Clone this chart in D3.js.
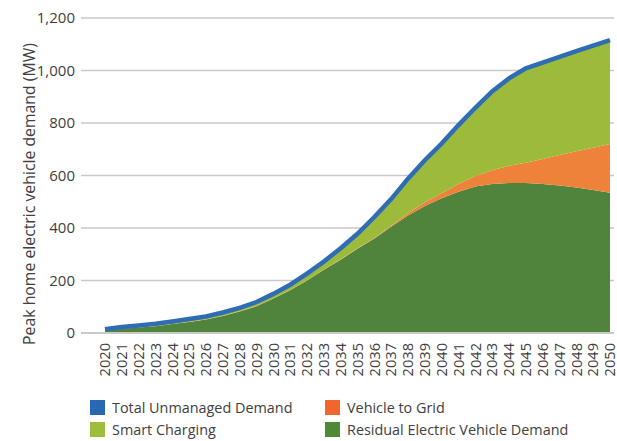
<!DOCTYPE html>
<html>
<head>
<meta charset="utf-8">
<script src="https://cdn.jsdelivr.net/npm/d3@7"></script>
<style>
  body { margin: 0; background: #fff; }
  svg text { font-family: "Open Sans", sans-serif; fill: #404040; }
</style>
</head>
<body>
<svg id="chart" width="617" height="441"></svg>
<script>
// years on the category axis
const years = d3.range(2020, 2051).map(String);

// series (MW)
const totalDemand = [14, 23, 29, 35, 44, 53, 63, 78, 96, 118, 149, 184, 226, 272, 323, 378,
  442, 510, 588, 658, 722, 792, 858, 920, 970, 1008, 1030, 1052, 1074, 1095, 1116];
const residual = [8, 16, 21, 26, 34, 42, 51, 65, 82, 102, 131, 163, 200, 241, 279, 321,
  360, 405, 448, 484, 513, 538, 558, 568, 571, 571, 568, 562, 554, 545, 534];
const vehicleToGrid = [1, 1, 1, 1, 1, 1, 1, 1, 1, 1, 1, 1, 1, 1, 2, 2,
  2, 4, 8, 14, 19, 30, 40, 52, 66, 78, 95, 116, 138, 161, 186];
const smartCharging = [5, 6, 7, 8, 9, 10, 11, 12, 13, 15, 17, 20, 25, 30, 42, 55,
  80, 101, 132, 160, 190, 224, 260, 300, 333, 359, 367, 374, 382, 389, 396];

const yTicks = [0, 200, 400, 600, 800, 1000, 1200];

const legendItems = [
  { name: "Total Unmanaged Demand", color: "#2a67b1" },
  { name: "Vehicle to Grid", color: "#f2652d" },
  { name: "Smart Charging", color: "#9fbd3c" },
  { name: "Residual Electric Vehicle Demand", color: "#4e8a34" }
];

const svg = d3.select("#chart");
const plotLeft = 81, plotRight = 614, plotTop = 18, plotBottom = 333;

const x = d3.scalePoint().domain(years).range([105, 610]);
const y = d3.scaleLinear().domain([0, 1200]).range([plotBottom, plotTop]);

// gridlines
svg.append("g")
  .selectAll("line")
  .data(yTicks.filter(d => d > 0))
  .enter().append("line")
  .attr("x1", plotLeft).attr("x2", plotRight)
  .attr("y1", d => y(d)).attr("y2", d => y(d))
  .attr("stroke", "#c9c9c9").attr("stroke-width", 1.5);

// stacked areas
const rows = years.map((yr, i) => ({
  year: yr,
  residual: residual[i],
  v2g: vehicleToGrid[i],
  smart: smartCharging[i]
}));
const stack = d3.stack().keys(["residual", "v2g", "smart"]);
const layers = stack(rows);
const fills = { residual: "#50843c", v2g: "#ef823a", smart: "#9dbb3b" };

const area = d3.area()
  .x(d => x(d.data.year))
  .y0(d => y(d[0]))
  .y1(d => y(d[1]));

svg.append("g")
  .selectAll("path")
  .data(layers)
  .enter().append("path")
  .attr("d", area)
  .attr("fill", d => fills[d.key]);

// baseline axis
svg.append("line")
  .attr("x1", plotLeft).attr("x2", plotRight)
  .attr("y1", y(0)).attr("y2", y(0))
  .attr("stroke", "#c9c9c9").attr("stroke-width", 2);

// total unmanaged demand line
const line = d3.line()
  .x((d, i) => x(years[i]))
  .y(d => y(d));

svg.append("path")
  .datum(totalDemand)
  .attr("d", line)
  .attr("fill", "none")
  .attr("stroke", "#2e6db4")
  .attr("stroke-width", 4.5);

// y axis labels
const yAxis = d3.axisLeft(y).tickValues(yTicks).tickSize(0).tickPadding(6)
  .tickFormat(d3.format(","));
const yg = svg.append("g").attr("transform", `translate(${plotLeft},0)`).call(yAxis);
yg.select(".domain").remove();
yg.selectAll("text").style("font-size", "15px").attr("fill", "#404040")
  .style("font-family", "'Open Sans', sans-serif");

// x axis labels (rotated)
const xAxis = d3.axisBottom(x).tickSize(0).tickPadding(0);
const xg = svg.append("g").attr("transform", `translate(0,${plotBottom})`).call(xAxis);
xg.select(".domain").remove();
xg.selectAll("text")
  .style("font-size", "14.6px")
  .style("font-family", "'Open Sans', sans-serif")
  .attr("fill", "#404040")
  .attr("text-anchor", "end")
  .attr("dy", "0.33em")
  .attr("transform", "translate(0,10) rotate(-90)");

// y axis title
svg.append("text")
  .attr("transform", "translate(35,194) rotate(-90)")
  .attr("text-anchor", "middle")
  .style("font-size", "15.8px")
  .text("Peak home electric vehicle demand (MW)");

// legend
const legend = svg.append("g");
legendItems.forEach((item, i) => {
  const col = i % 2, row = Math.floor(i / 2);
  const gx = col === 0 ? 90 : 325;
  const gy = 400 + row * 22;
  legend.append("rect")
    .attr("x", gx).attr("y", gy)
    .attr("width", 15).attr("height", 15)
    .attr("fill", item.color);
  legend.append("text")
    .attr("x", gx + 22).attr("y", gy + 13)
    .style("font-size", "14.4px")
    .text(item.name);
});
</script>
</body>
</html>
